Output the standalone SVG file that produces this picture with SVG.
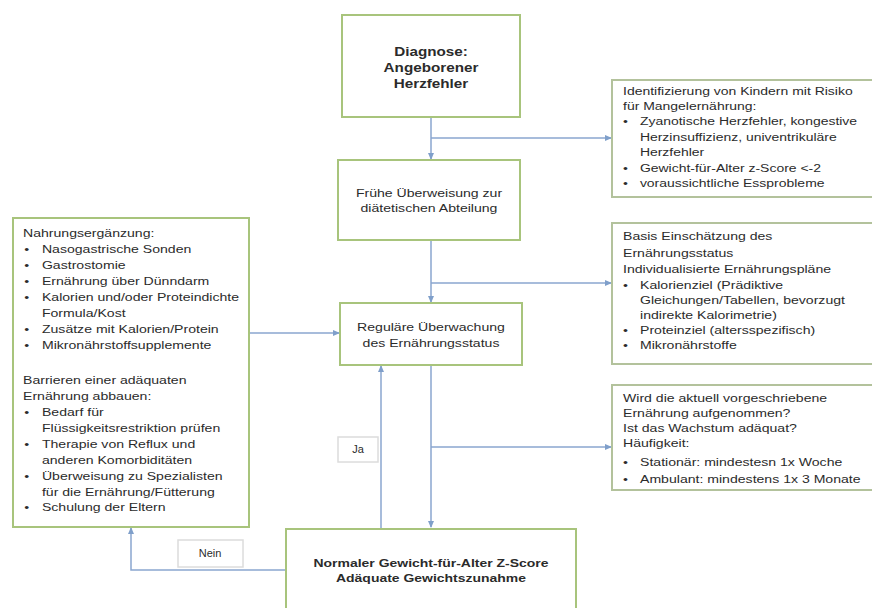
<svg xmlns="http://www.w3.org/2000/svg" width="872" height="608" viewBox="0 0 872 608">
<defs>
<marker id="ah" markerWidth="7" markerHeight="7" refX="6" refY="3.5" orient="auto" markerUnits="userSpaceOnUse">
<path d="M0,0.5 L7,3.5 L0,6.5 z" fill="#7f9fca"/>
</marker>
</defs>
<style>
.box{fill:#fff;stroke:#a8c47c;stroke-width:2}
.rbox{fill:#fff;stroke:#b3c29c;stroke-width:2}
.lbl{fill:#fff;stroke:#dcdcdc;stroke-width:1.5}
.t{font-family:"Liberation Sans",Arial,sans-serif;font-size:11px;fill:#2b2b2b}
.b{font-family:"Liberation Sans",Arial,sans-serif;font-size:11px;font-weight:bold;fill:#2b2b2b;text-anchor:middle}
.bl{font-size:12px}
.c{text-anchor:middle;font-family:"Liberation Sans",Arial,sans-serif;font-size:11px;fill:#2b2b2b}
.ln{fill:none;stroke:#8aa6cf;stroke-width:1.5}
</style>
<rect width="872" height="608" fill="#fff"/>
<g id="connectors">
<path class="ln" d="M431,117 V159" marker-end="url(#ah)"/>
<path class="ln" d="M431,138 H611" marker-end="url(#ah)"/>
<path class="ln" d="M431,240 V302" marker-end="url(#ah)"/>
<path class="ln" d="M431,283 H611" marker-end="url(#ah)"/>
<path class="ln" d="M431,365 V527" marker-end="url(#ah)"/>
<path class="ln" d="M431,447 H611" marker-end="url(#ah)"/>
<path class="ln" d="M381,528 V366" marker-end="url(#ah)"/>
<path class="ln" d="M249,333 H339" marker-end="url(#ah)"/>
<path class="ln" d="M286,570 H131 V528" marker-end="url(#ah)"/>
</g>
<g id="diagnose">
<rect class="box" x="342" y="15" width="178" height="102"/>
<g transform="translate(431,0) scale(1.27,1)">
<text class="b bl" x="0" y="56">Diagnose:</text>
<text class="b bl" x="0" y="72">Angeborener</text>
<text class="b bl" x="0" y="88">Herzfehler</text>
</g>
</g>
<g id="fruehe">
<rect class="box" x="338" y="160" width="182" height="80"/>
<g transform="translate(429,0) scale(1.28,1)">
<text class="c" x="0" y="197">Frühe Überweisung zur</text>
<text class="c" x="0" y="212">diätetischen Abteilung</text>
</g>
</g>
<g id="regulaer">
<rect class="box" x="340" y="303" width="182" height="62"/>
<g transform="translate(431,0) scale(1.28,1)">
<text class="c" x="0" y="331">Reguläre Überwachung</text>
<text class="c" x="0" y="347">des Ernährungsstatus</text>
</g>
</g>
<g id="normal">
<rect class="box" x="286" y="529" width="290" height="90"/>
<g transform="translate(431,0) scale(1.27,1)">
<text class="b" x="0" y="567">Normaler Gewicht-für-Alter Z-Score</text>
<text class="b" x="0" y="582">Adäquate Gewichtszunahme</text>
</g>
</g>
<g id="risiko">
<rect class="rbox" x="612" y="80" width="270" height="117"/>
<g transform="translate(623,0) scale(1.27,1)">
<text class="t" x="0" y="95">Identifizierung von Kindern mit Risiko</text>
<text class="t" x="0" y="110">für Mangelernährung:</text>
<text class="t" x="0" y="125">•</text><text class="t" x="13.3" y="125">Zyanotische Herzfehler, kongestive</text>
<text class="t" x="13.3" y="141">Herzinsuffizienz, univentrikuläre</text>
<text class="t" x="13.3" y="156">Herzfehler</text>
<text class="t" x="0" y="172">•</text><text class="t" x="13.3" y="172">Gewicht-für-Alter z-Score &lt;-2</text>
<text class="t" x="0" y="187">•</text><text class="t" x="13.3" y="187">voraussichtliche Essprobleme</text>
</g>
</g>
<g id="basis">
<rect class="rbox" x="612" y="223" width="270" height="141"/>
<g transform="translate(623,0) scale(1.28,1)">
<text class="t" x="0" y="240">Basis Einschätzung des</text>
<text class="t" x="0" y="257">Ernährungsstatus</text>
<text class="t" x="0" y="273">Individualisierte Ernährungspläne</text>
<text class="t" x="0" y="289">•</text><text class="t" x="13.3" y="289">Kalorienziel (Prädiktive</text>
<text class="t" x="13.3" y="304">Gleichungen/Tabellen, bevorzugt</text>
<text class="t" x="13.3" y="319">indirekte Kalorimetrie)</text>
<text class="t" x="0" y="334">•</text><text class="t" x="13.3" y="334">Proteinziel (altersspezifisch)</text>
<text class="t" x="0" y="349">•</text><text class="t" x="13.3" y="349">Mikronährstoffe</text>
</g>
</g>
<g id="wachstum">
<rect class="rbox" x="612" y="385" width="270" height="105"/>
<g transform="translate(623,0) scale(1.28,1)">
<text class="t" x="0" y="402">Wird die aktuell vorgeschriebene</text>
<text class="t" x="0" y="417">Ernährung aufgenommen?</text>
<text class="t" x="0" y="432">Ist das Wachstum adäquat?</text>
<text class="t" x="0" y="447">Häufigkeit:</text>
<text class="t" x="0" y="466">•</text><text class="t" x="13.3" y="466">Stationär: mindestesn 1x Woche</text>
<text class="t" x="0" y="483">•</text><text class="t" x="13.3" y="483">Ambulant: mindestens 1x 3 Monate</text>
</g>
</g>
<g id="ergaenzung">
<rect class="box" x="13" y="218" width="236" height="309"/>
<g transform="translate(23,0) scale(1.28,1)">
<text class="t" x="0" y="237">Nahrungsergänzung:</text>
<text class="t" x="1" y="253">•</text><text class="t" x="14.8" y="253">Nasogastrische Sonden</text>
<text class="t" x="1" y="269">•</text><text class="t" x="14.8" y="269">Gastrostomie</text>
<text class="t" x="1" y="285">•</text><text class="t" x="14.8" y="285">Ernährung über Dünndarm</text>
<text class="t" x="1" y="301">•</text><text class="t" x="14.8" y="301">Kalorien und/oder Proteindichte</text>
<text class="t" x="14.8" y="317">Formula/Kost</text>
<text class="t" x="1" y="333">•</text><text class="t" x="14.8" y="333">Zusätze mit Kalorien/Protein</text>
<text class="t" x="1" y="349">•</text><text class="t" x="14.8" y="349">Mikronährstoffsupplemente</text>
<text class="t" x="0" y="384">Barrieren einer adäquaten</text>
<text class="t" x="0" y="400">Ernährung abbauen:</text>
<text class="t" x="1" y="416">•</text><text class="t" x="14.8" y="416">Bedarf für</text>
<text class="t" x="14.8" y="432">Flüssigkeitsrestriktion prüfen</text>
<text class="t" x="1" y="448">•</text><text class="t" x="14.8" y="448">Therapie von Reflux und</text>
<text class="t" x="14.8" y="464">anderen Komorbiditäten</text>
<text class="t" x="1" y="480">•</text><text class="t" x="14.8" y="480">Überweisung zu Spezialisten</text>
<text class="t" x="14.8" y="496">für die Ernährung/Fütterung</text>
<text class="t" x="1" y="511">•</text><text class="t" x="14.8" y="511">Schulung der Eltern</text>
</g>
</g>
<g id="ja">
<rect class="lbl" x="338" y="437" width="40" height="25"/>
<text class="c" x="358" y="453">Ja</text>
</g>
<g id="nein">
<rect class="lbl" x="178" y="540" width="65" height="27"/>
<text class="c" x="210" y="557">Nein</text>
</g>
</svg>
